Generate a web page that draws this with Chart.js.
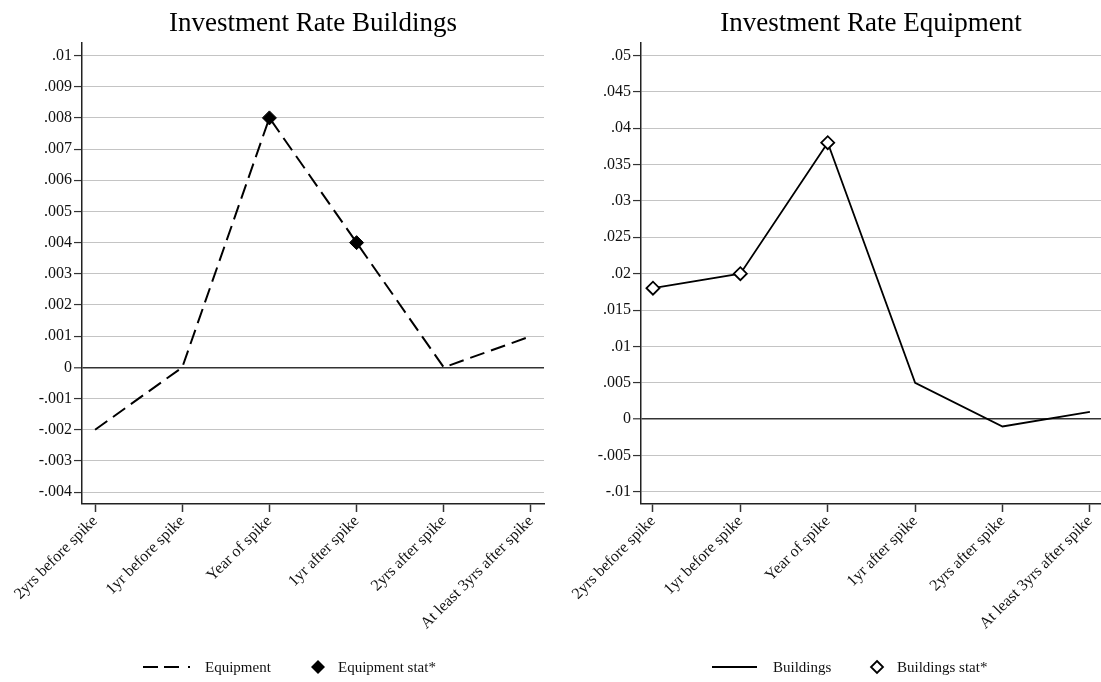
<!DOCTYPE html>
<html>
<head>
<meta charset="utf-8">
<script src="https://cdn.jsdelivr.net/npm/chart.js@4.4.1/dist/chart.umd.min.js"></script>
<style>
  html, body { margin: 0; padding: 0; background: #fff; }
  #wrap { position: relative; width: 1101px; height: 682px; overflow: hidden; font-family: 'Liberation Serif', 'Times New Roman', serif; }
  .box { position: absolute; top: 0; height: 682px; }
  #boxL { left: 0; width: 550px; }
  #boxR { left: 550px; width: 551px; }
  .leg { position: absolute; top: 657px; height: 20px; font-size: 15px; line-height: 20px; color: #111; white-space: nowrap; }
  svg.key { position: absolute; top: 657px; }
</style>
</head>
<body>
<div id="wrap">
  <div class="box" id="boxL"><canvas id="chartL" width="550" height="682"></canvas></div>
  <div class="box" id="boxR"><canvas id="chartR" width="551" height="682"></canvas></div>

  <!-- legend, left panel -->
  <svg class="key" style="left:143px" width="50" height="20">
    <line x1="0" y1="10" x2="47" y2="10" stroke="#000" stroke-width="2" stroke-dasharray="15 6 15 9 2 10"/>
  </svg>
  <span class="leg" style="left:205px">Equipment</span>
  <svg class="key" style="left:310px" width="16" height="20">
    <polygon points="8,3 15,10 8,17 1,10" fill="#000"/>
  </svg>
  <span class="leg" style="left:338px">Equipment stat*</span>

  <!-- legend, right panel -->
  <svg class="key" style="left:712px" width="46" height="20">
    <line x1="0" y1="10" x2="45" y2="10" stroke="#000" stroke-width="2"/>
  </svg>
  <span class="leg" style="left:773px">Buildings</span>
  <svg class="key" style="left:869px" width="16" height="20">
    <polygon points="8,4 14,10 8,16 2,10" fill="#fff" stroke="#000" stroke-width="1.8"/>
  </svg>
  <span class="leg" style="left:897px">Buildings stat*</span>
</div>

<script>
// Event-time categories around an investment spike
const categories = [
  '2yrs before spike',
  '1yr before spike',
  'Year of spike',
  '1yr after spike',
  '2yrs after spike',
  'At least 3yrs after spike'
];

// Left panel series
const equipmentRate = [-0.002, 0, 0.008, 0.004, 0, 0.001];
const equipmentStat = [null, null, 0.008, 0.004, null, null];
const leftTitle = 'Investment Rate Buildings';
const leftYTicks = [-0.004, -0.003, -0.002, -0.001, 0, 0.001, 0.002, 0.003, 0.004, 0.005, 0.006, 0.007, 0.008, 0.009, 0.01];

// Right panel series
const buildingsRate = [0.018, 0.02, 0.038, 0.005, -0.001, 0.001];
const buildingsStat = [0.018, 0.02, 0.038, null, null, null];
const rightTitle = 'Investment Rate Equipment';
const rightYTicks = [-0.01, -0.005, 0, 0.005, 0.01, 0.015, 0.02, 0.025, 0.03, 0.035, 0.04, 0.045, 0.05];

const FONT = "'Liberation Serif', 'Times New Roman', serif";
const INK = '#111';

function toPoints(arr) {
  const pts = [];
  arr.forEach((v, i) => { if (v !== null) pts.push({ x: i, y: v }); });
  return pts;
}

function fmtTick(v) {
  const r = Math.round(v * 1e6) / 1e6;
  if (r === 0) return '0';
  return String(r).replace('0.', '.');
}

function makeChart(id, opts) {
  return new Chart(document.getElementById(id), {
    type: 'line',
    data: {
      datasets: [
        {
          label: opts.statLabel,
          data: toPoints(opts.stat),
          showLine: false,
          pointStyle: 'rectRot',
          pointRadius: opts.markerRadius,
          pointBackgroundColor: opts.markerFill,
          pointBorderColor: '#000',
          pointBorderWidth: opts.markerBorder,
          order: 0
        },
        {
          label: opts.lineLabel,
          data: toPoints(opts.series),
          borderColor: '#000',
          borderWidth: opts.lineWidth,
          borderDash: opts.dash,
          pointRadius: 0,
          fill: false,
          tension: 0,
          order: 1
        }
      ]
    },
    options: {
      responsive: false,
      animation: false,
      layout: { autoPadding: false, padding: { left: 0, right: opts.padRight, top: 0, bottom: 0 } },
      plugins: {
        legend: { display: false },
        tooltip: { enabled: false },
        title: {
          display: true,
          text: opts.title,
          fullSize: false,
          color: '#000',
          font: { family: FONT, size: 27, weight: 'normal', lineHeight: 1.2 },
          padding: { top: 8, bottom: 2 }
        }
      },
      scales: {
        x: {
          type: 'linear',
          min: opts.xMin,
          max: opts.xMax,
          afterBuildTicks: (s) => { s.ticks = categories.map((c, i) => ({ value: i })); },
          afterFit: (s) => { s.height = 178; s.paddingLeft = 0; s.paddingRight = 0; },
          grid: { display: true, drawOnChartArea: false, drawTicks: true, tickLength: 8, tickColor: '#333', tickWidth: 1.5 },
          border: { display: true, color: '#222', width: 1.5 },
          ticks: {
            autoSkip: false,
            minRotation: 45,
            maxRotation: 45,
            padding: 0,
            color: INK,
            font: { family: FONT, size: 16 },
            callback: (v) => categories[Math.round(v)]
          }
        },
        y: {
          min: opts.yMin,
          max: opts.yMax,
          afterBuildTicks: (s) => { s.ticks = opts.yTicks.map(v => ({ value: v })); },
          afterFit: (s) => { s.width = opts.yWidth; s.paddingTop = 0; s.paddingBottom = 0; },
          grid: {
            color: (c) => (c.tick && Math.abs(c.tick.value) < 1e-9 ? '#333' : '#c4c4c4'),
            lineWidth: (c) => (c.tick && Math.abs(c.tick.value) < 1e-9 ? 1.6 : 1.1),
            drawTicks: true,
            tickLength: 8,
            tickColor: '#333',
            tickWidth: 1.2
          },
          border: { display: true, color: '#222', width: 1.5 },
          ticks: {
            padding: 2,
            color: INK,
            font: { family: FONT, size: 16 },
            callback: (v) => fmtTick(v)
          }
        }
      }
    }
  });
}

makeChart('chartL', {
  title: leftTitle,
  series: equipmentRate,
  stat: equipmentStat,
  lineLabel: 'Equipment',
  statLabel: 'Equipment stat*',
  dash: [15, 7],
  lineWidth: 2,
  markerRadius: 7,
  markerFill: '#000',
  markerBorder: 1,
  yTicks: leftYTicks,
  yMin: -0.00438,
  yMax: 0.01042,
  xMin: -0.15,
  xMax: 5.15,
  yWidth: 82,
  padRight: 6
});

makeChart('chartR', {
  title: rightTitle,
  series: buildingsRate,
  stat: buildingsStat,
  lineLabel: 'Buildings',
  statLabel: 'Buildings stat*',
  dash: [],
  lineWidth: 1.8,
  markerRadius: 6.5,
  markerFill: '#fff',
  markerBorder: 1.8,
  yTicks: rightYTicks,
  yMin: -0.01165,
  yMax: 0.05178,
  xMin: -0.137,
  xMax: 5.127,
  yWidth: 91,
  padRight: 0
});
</script>
</body>
</html>
